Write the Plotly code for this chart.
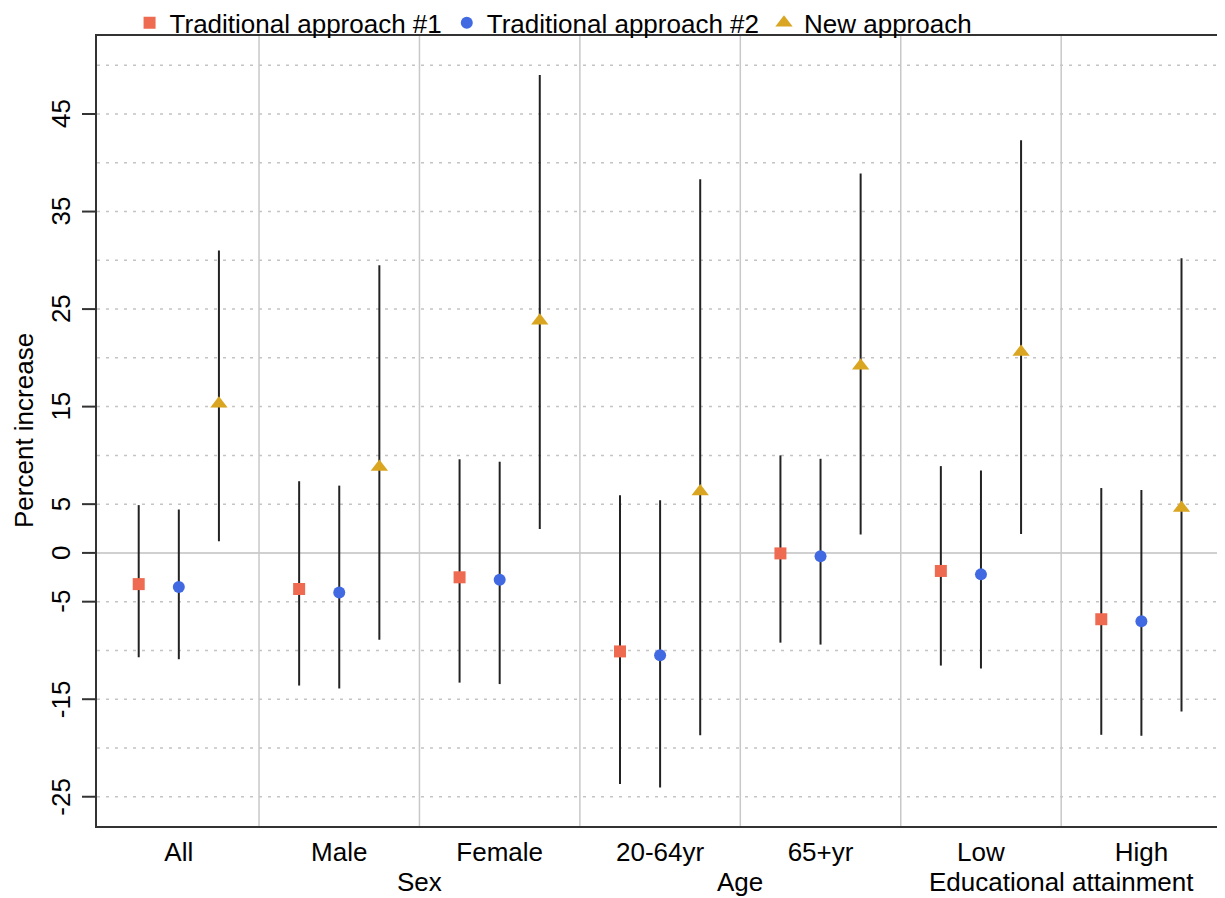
import plotly.graph_objects as go

categories = ["All", "Male", "Female", "20-64yr", "65+yr", "Low", "High"]
group_labels = ["Sex", "Age", "Educational attainment"]
group_label_pos = [1.5, 3.5, 5.5]
series_names = ["Traditional approach #1", "Traditional approach #2", "New approach"]
y_title = "Percent increase"

trad1_est = [-3.2, -3.7, -2.5, -10.1, -0.05, -1.85, -6.8]
trad1_lo = [-10.7, -13.6, -13.3, -23.7, -9.2, -11.55, -18.65]
trad1_hi = [4.9, 7.35, 9.6, 5.9, 10.0, 8.9, 6.65]

trad2_est = [-3.5, -4.05, -2.75, -10.5, -0.35, -2.2, -7.0]
trad2_lo = [-10.9, -13.9, -13.45, -24.05, -9.4, -11.85, -18.75]
trad2_hi = [4.45, 6.9, 9.35, 5.4, 9.65, 8.45, 6.45]

new_est = [15.3, 8.8, 23.8, 6.3, 19.2, 20.6, 4.6]
new_lo = [1.2, -8.9, 2.45, -18.7, 1.9, 1.95, -16.25]
new_hi = [31.0, 29.5, 49.0, 38.3, 38.9, 42.3, 30.2]

y_tick_vals = [-25, -15, -5, 0, 5, 15, 25, 35, 45]
y_tick_text = ["-25", "-15", "-5", "0", "5", "15", "25", "35", "45"]
grid_vals = [-25, -20, -15, -10, -5, 5, 10, 15, 20, 25, 30, 35, 40, 45, 50]

offsets = [-0.25, 0.0, 0.25]
colors = ["#EE6A50", "#4169E1", "#DAA520"]
symbols = ["square", "circle", "triangle-up"]
sizes = [12, 12, 15]

FONT = "Liberation Sans, Arial, Helvetica, sans-serif"
FS = 26
W, H = 1217, 890
ML, MR, MT, MB = 89, 5, 28, 72
X_RANGE = [-0.51, 6.49]
Y_RANGE = [-28, 53]
TICKLEN = 15
plot_w = W - ML - MR

fig = go.Figure()
series = [(trad1_est, trad1_lo, trad1_hi), (trad2_est, trad2_lo, trad2_hi), (new_est, new_lo, new_hi)]
for k, (est, lo, hi) in enumerate(series):
    xs = [i + offsets[k] for i in range(len(categories))]
    fig.add_trace(go.Scatter(
        x=xs, y=est, mode="markers", name=series_names[k],
        marker=dict(symbol=symbols[k], size=sizes[k], color=colors[k], line=dict(width=0)),
        error_y=dict(type="data", symmetric=False,
                     array=[h - e for h, e in zip(hi, est)],
                     arrayminus=[e - l for e, l in zip(est, lo)],
                     width=0, thickness=2, color="#222222"),
        cliponaxis=False,
    ))

shapes = []
for g in grid_vals:
    shapes.append(dict(type="line", xref="paper", x0=0, x1=1, yref="y", y0=g, y1=g,
                       line=dict(color="#c4c4c4", width=1.5, dash="3px,6px"), layer="below"))
shapes.append(dict(type="line", xref="paper", x0=0, x1=1, yref="y", y0=0, y1=0,
                   line=dict(color="#c0c0c0", width=1.5), layer="below"))
for i in range(len(categories) - 1):
    shapes.append(dict(type="line", xref="x", x0=i + 0.5, x1=i + 0.5, yref="paper", y0=0, y1=1,
                       line=dict(color="#c8c8c8", width=1.5), layer="below"))
# outward y-axis tick marks (paper-referenced so they are not clipped to the plot area)
for t in y_tick_vals:
    yp = (t - Y_RANGE[0]) / (Y_RANGE[1] - Y_RANGE[0])
    shapes.append(dict(type="line", xref="paper", x0=-TICKLEN / plot_w, x1=0, yref="paper",
                       y0=yp, y1=yp, line=dict(color="#333333", width=2), layer="above"))

annotations = []
for lab, pos in zip(group_labels, group_label_pos):
    annotations.append(dict(text=lab, x=pos, xref="x", y=0, yref="paper", yanchor="middle",
                            yshift=-56, showarrow=False, font=dict(size=FS, color="#000", family=FONT)))
# rotated y tick labels, placed on the y axis scale
for v, txt in zip(y_tick_vals, y_tick_text):
    annotations.append(dict(text=txt, x=0, xref="paper", xanchor="center", xshift=-36,
                            y=v, yref="y", yanchor="middle", textangle=-90, showarrow=False,
                            font=dict(size=FS, color="#000", family=FONT)))
annotations.append(dict(text=y_title, x=0, xref="paper", xanchor="center", xshift=-73,
                        y=0.5, yref="paper", yanchor="middle", textangle=-90, showarrow=False,
                        font=dict(size=FS, color="#000", family=FONT)))

fig.update_layout(
    width=W, height=H,
    margin=dict(l=ML, r=MR, t=MT, b=MB, autoexpand=False),
    paper_bgcolor="white", plot_bgcolor="white",
    font=dict(family=FONT, size=FS, color="#000"),
    shapes=shapes, annotations=annotations,
    showlegend=True,
    legend=dict(orientation="h", x=0.029, xanchor="left", y=1.0165, yanchor="middle",
                font=dict(size=FS, family=FONT), bgcolor="rgba(0,0,0,0)", itemwidth=30,
                tracegroupgap=0),
    xaxis=dict(range=X_RANGE, tickvals=list(range(len(categories))), ticktext=categories,
               ticks="", showgrid=False, zeroline=False, showline=True, mirror=True,
               linecolor="#333333", linewidth=2, tickfont=dict(size=FS), ticklabelstandoff=2),
    yaxis=dict(range=Y_RANGE, tickvals=y_tick_vals, ticks="", showticklabels=False,
               showgrid=False, zeroline=False, showline=True, mirror=True,
               linecolor="#333333", linewidth=2),
)

fig.write_html("out.html")
